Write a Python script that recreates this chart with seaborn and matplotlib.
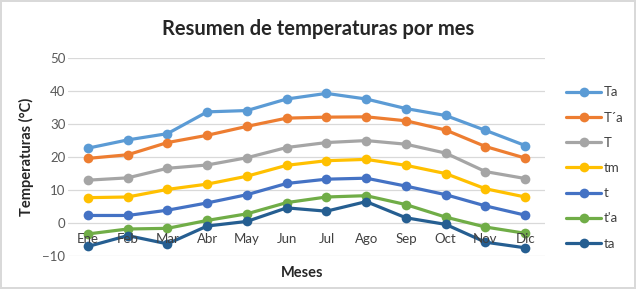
import matplotlib.pyplot as plt
import seaborn as sns
import pandas as pd

meses = ['Ene', 'Feb', 'Mar', 'Abr', 'May', 'Jun', 'Jul', 'Ago', 'Sep', 'Oct', 'Nov', 'Dic']
Ta = [22.7, 25.2, 27.1, 33.7, 34.1, 37.6, 39.3, 37.6, 34.7, 32.6, 28.1, 23.5]
Tpa = [19.6, 20.7, 24.4, 26.6, 29.3, 31.8, 32.1, 32.2, 31.0, 28.2, 23.2, 19.7]
T = [13.0, 13.7, 16.6, 17.6, 19.8, 22.9, 24.4, 25.0, 23.9, 21.2, 15.6, 13.5]
tm = [7.7, 7.9, 10.2, 11.8, 14.2, 17.5, 18.9, 19.3, 17.5, 15.0, 10.4, 7.9]
t = [2.3, 2.3, 3.9, 6.1, 8.6, 12.0, 13.3, 13.6, 11.2, 8.6, 5.2, 2.4]
tpa = [-3.3, -1.8, -1.6, 0.8, 2.8, 6.2, 7.9, 8.3, 5.6, 1.8, -1.2, -3.1]
ta = [-7.1, -3.8, -6.3, -0.9, 0.5, 4.6, 3.6, 6.5, 1.6, -0.4, -5.8, -7.5]

series = {'Ta': Ta, 'T´a': Tpa, 'T': T, 'tm': tm, 't': t, "t'a": tpa, 'ta': ta}
colores = ['#5B9BD5', '#ED7D31', '#A5A5A5', '#FFC000', '#4472C4', '#70AD47', '#255E91']

df = pd.DataFrame([(k, i, m, v) for k, vals in series.items()
                   for i, (m, v) in enumerate(zip(meses, vals))],
                  columns=['serie', 'idx', 'mes', 'valor'])

sns.set_style('white')
plt.rcParams['font.family'] = ['Lato', 'DejaVu Sans']

fig = plt.figure(figsize=(6.36, 2.89), dpi=100)
fig.patch.set_edgecolor('#D9D9D9')
fig.patch.set_linewidth(1.5)
ax = fig.add_axes([0.107, 0.114, 0.75, 0.685])

sns.lineplot(data=df, x='idx', y='valor', hue='serie', palette=colores,
             marker='o', markersize=7, markeredgewidth=0, linewidth=2.3,
             ax=ax, zorder=3)

ax.set_xlim(-0.5, 11.5)
ax.set_ylim(-10, 50)
ax.set_yticks(range(-10, 51, 10))
ax.grid(axis='y', color='#D9D9D9', linewidth=0.9)
ax.set_axisbelow(True)
for s in ax.spines.values():
    s.set_visible(False)
ax.spines['bottom'].set_position(('data', 0))
ax.set_xticks(range(12))
ax.set_xticklabels(meses)
ax.tick_params(axis='both', length=0, labelsize=9.5, colors='#595959', pad=2)
ax.tick_params(axis='x', pad=7, colors='#404040')
ax.xaxis.set_zorder(5)

ax.set_xlabel('')
ax.set_ylabel('Temperaturas (°C)', fontsize=10.5, fontweight='bold', color='#262626', labelpad=6)
fig.text(0.475, 0.055, 'Meses', ha='center', va='center', fontsize=10.5,
         fontweight='bold', color='#262626')
fig.text(0.5, 0.9, 'Resumen de temperaturas por mes', ha='center', va='center',
         fontsize=14.5, fontweight='bold', color='#262626')

leg = ax.legend(loc='center left', bbox_to_anchor=(1.02, 0.445), frameon=False,
                fontsize=9.5, labelspacing=1.0, handlelength=2.6, handletextpad=0.2)
for txt in leg.get_texts():
    txt.set_color('#404040')

fig.savefig('out.png', dpi=100)
